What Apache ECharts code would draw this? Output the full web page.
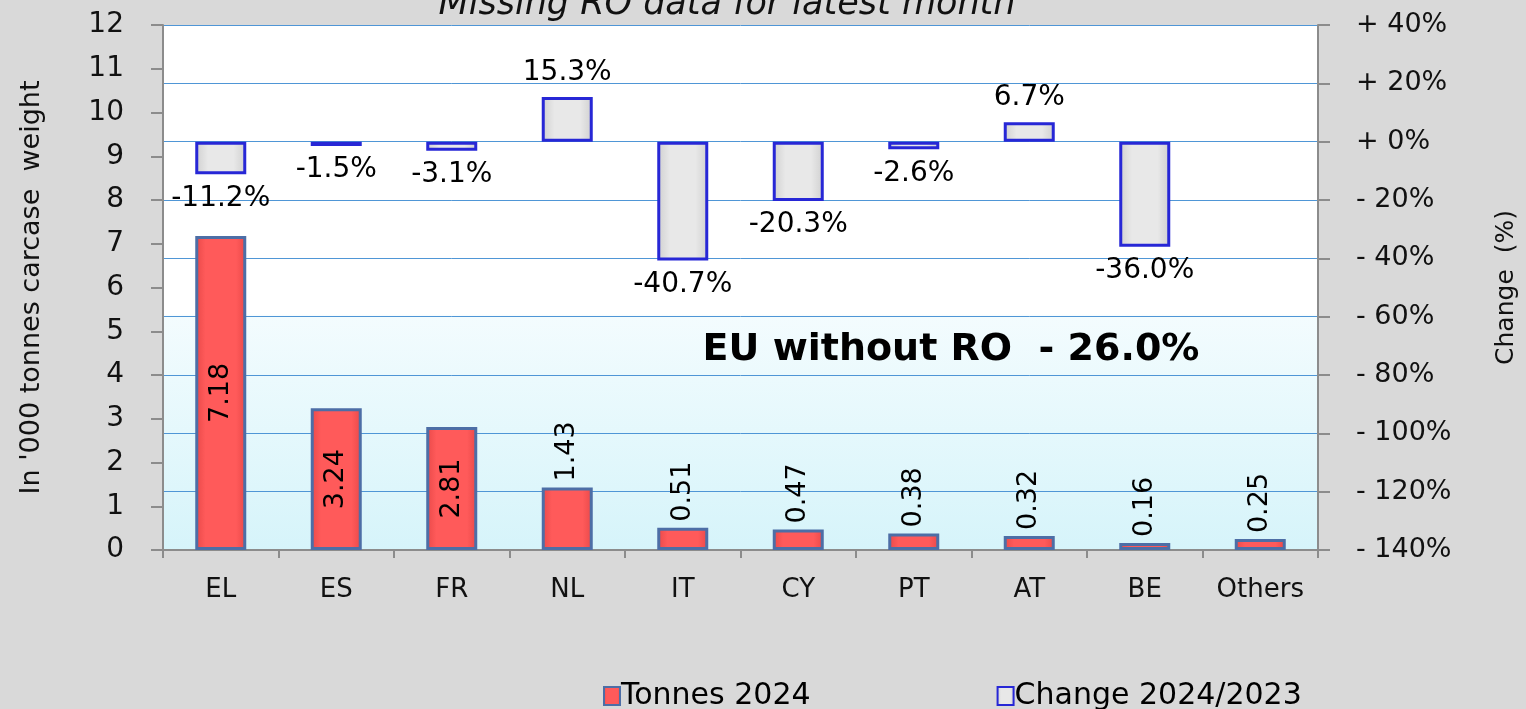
<!DOCTYPE html>
<html>
<head>
<meta charset="utf-8">
<script src="https://cdn.jsdelivr.net/npm/echarts@6/dist/echarts.min.js"></script>
<style>
html,body{margin:0;padding:0;background:#d9d9d9;}
#chart{width:1526px;height:709px;}
</style>
</head>
<body>
<div id="chart"></div>
<script>
const categories = ['EL', 'ES', 'FR', 'NL', 'IT', 'CY', 'PT', 'AT', 'BE', 'Others'];
const tonnes2024 = [7.18, 3.24, 2.81, 1.43, 0.51, 0.47, 0.38, 0.32, 0.16, 0.25];
const change2024vs2023 = [-11.2, -1.5, -3.1, 15.3, -40.7, -20.3, -2.6, 6.7, -36.0, null];
const seriesNames = ['Tonnes 2024', 'Change 2024/2023'];
const titleText = 'Missing RO data for latest month';
const euText = 'EU without RO  - 26.0%';
const leftAxisName = "In '000 tonnes carcase  weight";
const rightAxisName = 'Change  (%)';

const FONT = 'DejaVu Sans';

const tonnesData = tonnes2024.map(v => ({
  value: v,
  label: v >= 2
    ? { position: 'inside', rotate: 90, align: 'center', verticalAlign: 'middle' }
    : { position: 'top', rotate: 90, align: 'left', verticalAlign: 'middle', distance: 6 }
}));

const changeData = change2024vs2023.map(v => v === null ? null : ({
  value: v,
  label: { position: v < 0 ? 'bottom' : 'top', distance: 10 }
}));

const chart = echarts.init(document.getElementById('chart'), null, { renderer: 'canvas' });
chart.setOption({
  backgroundColor: '#d9d9d9',
  animation: false,
  textStyle: { fontFamily: FONT },
  grid: {
    left: 163, right: 208, top: 25, bottom: 159,
    outerBoundsMode: 'none',
    containLabel: false,
    show: true,
    borderWidth: 0,
    backgroundColor: {
      type: 'linear', x: 0, y: 0, x2: 0, y2: 1,
      colorStops: [
        { offset: 0, color: '#ffffff' },
        { offset: 0.55, color: '#ffffff' },
        { offset: 0.556, color: '#f3fcfe' },
        { offset: 1, color: '#d6f4fa' }
      ]
    }
  },
  graphic: [
    {
      type: 'text',
      style: {
        text: titleText, x: 727, y: 5, align: 'center', verticalAlign: 'middle',
        font: 'italic 35px "' + FONT + '"', fill: '#111'
      }
    },
    {
      type: 'text',
      style: {
        text: euText, x: 951, y: 350, align: 'center', verticalAlign: 'middle',
        font: 'bold 38px "' + FONT + '"', fill: '#000'
      }
    }
  ],
  legend: {
    data: seriesNames,
    left: 598, top: 676,
    icon: 'rect',
    itemWidth: 16, itemHeight: 18,
    itemGap: 186,
    textStyle: { fontFamily: FONT, fontSize: 30, color: '#000', padding: [0, 0, 0, -4] }
  },
  xAxis: {
    type: 'category',
    data: categories,
    axisLine: { lineStyle: { color: '#8c8c8c', width: 2 } },
    axisTick: { show: true, length: 8, lineStyle: { color: '#8c8c8c', width: 2 } },
    axisLabel: { fontSize: 26, color: '#111', margin: 27, fontFamily: FONT }
  },
  yAxis: [
    {
      type: 'value', min: 0, max: 12, interval: 1,
      name: leftAxisName, nameLocation: 'middle', nameGap: 118,
      nameTextStyle: { fontSize: 27, color: '#111', fontFamily: FONT },
      axisLine: { show: true, lineStyle: { color: '#8c8c8c', width: 2 } },
      axisTick: { show: true, length: 12, lineStyle: { color: '#8c8c8c', width: 2 } },
      axisLabel: { fontSize: 28, color: '#111', margin: 39, fontFamily: FONT },
      splitLine: { show: false }
    },
    {
      type: 'value', min: -140, max: 40, interval: 20,
      name: rightAxisName, nameLocation: 'middle', nameGap: 176, nameRotate: 90,
      nameTextStyle: { fontSize: 25, color: '#111', fontFamily: FONT },
      axisLine: { show: true, lineStyle: { color: '#8c8c8c', width: 2 } },
      axisTick: { show: true, length: 12, lineStyle: { color: '#8c8c8c', width: 2 } },
      axisLabel: {
        fontSize: 27, color: '#111', margin: 38, fontFamily: FONT,
        formatter: v => (v >= 0 ? '+ ' : '- ') + Math.abs(v) + '%'
      },
      splitLine: { show: true, lineStyle: { color: '#4f96d6', width: 1 } }
    }
  ],
  series: [
    {
      name: seriesNames[0],
      type: 'bar',
      yAxisIndex: 0,
      barWidth: 51,
      barGap: '-100%',
      data: tonnesData,
      itemStyle: {
        color: {
          type: 'linear', x: 0, y: 0, x2: 1, y2: 0,
          colorStops: [
            { offset: 0, color: '#e84848' },
            { offset: 0.2, color: '#ff5a5a' },
            { offset: 0.8, color: '#ff5a5a' },
            { offset: 1, color: '#e84848' }
          ]
        },
        borderColor: '#4d6ea6', borderWidth: 3
      },
      label: {
        show: true, fontSize: 27, color: '#000', fontFamily: FONT,
        formatter: p => p.value.toFixed(2)
      },
      z: 2
    },
    {
      name: seriesNames[1],
      type: 'bar',
      yAxisIndex: 1,
      barWidth: 51,
      barGap: '-100%',
      data: changeData,
      itemStyle: {
        color: {
          type: 'linear', x: 0, y: 0, x2: 1, y2: 0,
          colorStops: [
            { offset: 0, color: '#cfcfcf' },
            { offset: 0.25, color: '#e8e8e8' },
            { offset: 0.75, color: '#e8e8e8' },
            { offset: 1, color: '#cfcfcf' }
          ]
        },
        borderColor: '#2727d6', borderWidth: 3
      },
      label: {
        show: true, fontSize: 28, color: '#000', fontFamily: FONT,
        formatter: p => p.value.toFixed(1) + '%'
      },
      z: 3
    }
  ]
});
</script>
</body>
</html>
